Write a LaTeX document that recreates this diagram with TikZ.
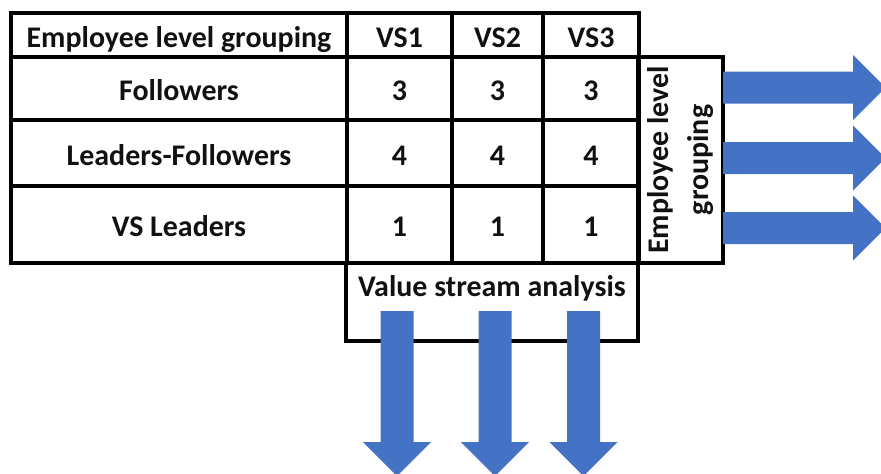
\documentclass[tikz,border=0pt]{standalone}
\usepackage{fontspec}
\setmainfont{Carlito}
\usepackage{tikz}
\usetikzlibrary{positioning}
\definecolor{vsBlue}{HTML}{4472C4}
\definecolor{vsInk}{HTML}{111111}
\tikzset{
  vs diagram/.style={font=\fontsize{21.3}{27}\selectfont\bfseries, text=vsInk,
    line join=miter},
  vs box/.style={draw=black, line width=2.4pt, anchor=north west,
    inner sep=0pt, outer sep=0pt, align=center},
  vs cell/.style={vs box, text height=0.75cm, text depth=0.15cm},
  vs arrow/.style={fill=vsBlue, draw=none}
}

\begin{document}
\begin{tikzpicture}[vs diagram]
\useasboundingbox (0,0) rectangle (22.025,-11.825);
\clip (0,0) rectangle (22.025,-11.825);
% header row
\node[vs cell, minimum width=8.4cm, minimum height=1.1cm] (hdr) at (0.275,-0.325) {Employee level grouping};
\foreach \c/\x/\w in {1/8.675/2.625,2/11.3/2.275,3/13.575/2.4}{
  \node[vs cell, minimum width=\w cm, minimum height=1.1cm] (hdr-\c) at (\x,-0.325) {VS\c};
}
% grouping rows
\foreach \r/\lab/\n/\top/\h in {fol/Followers/3/1.425/1.575,lf/Leaders-Followers/4/3.0/1.65,vsl/VS Leaders/1/4.65/1.925}{
  \node[vs cell, minimum width=8.4cm, minimum height=\h cm] (\r) at (0.275,-\top) {\lab};
  \foreach \c/\x/\w in {1/8.675/2.625,2/11.3/2.275,3/13.575/2.4}
    \node[vs cell, minimum width=\w cm, minimum height=\h cm] (\r-\c) at (\x,-\top) {\n};
}
% side and bottom boxes
\node[vs box, anchor=center, rotate=90, minimum width=5.15cm, minimum height=2.125cm] (grp) at (17.0125,-4.0) {Employee level\\[1pt]grouping};
\node[vs box, minimum width=7.3cm, minimum height=1.95cm,
  label={[anchor=base, yshift=-0.83cm]north:Value stream analysis}] (vsa) at (8.65,-6.575) {};
% outgoing arrows
\foreach \y in {-2.1875,-3.95,-5.7}{
  \fill[vs arrow] (18.075,\y+0.4) -- (21.325,\y+0.4) -- (21.325,\y+0.8125) -- (22.1375,\y)
    -- (21.325,\y-0.8125) -- (21.325,\y-0.4) -- (18.075,\y-0.4) -- cycle;
}
\foreach \x in {9.925,12.375,14.5875}{
  \fill[vs arrow] (\x-0.4125,-7.775) -- (\x+0.4125,-7.775) -- (\x+0.4125,-11.05) -- (\x+0.85,-11.05)
    -- (\x,-11.9) -- (\x-0.85,-11.05) -- (\x-0.4125,-11.05) -- cycle;
}
\end{tikzpicture}
\end{document}
